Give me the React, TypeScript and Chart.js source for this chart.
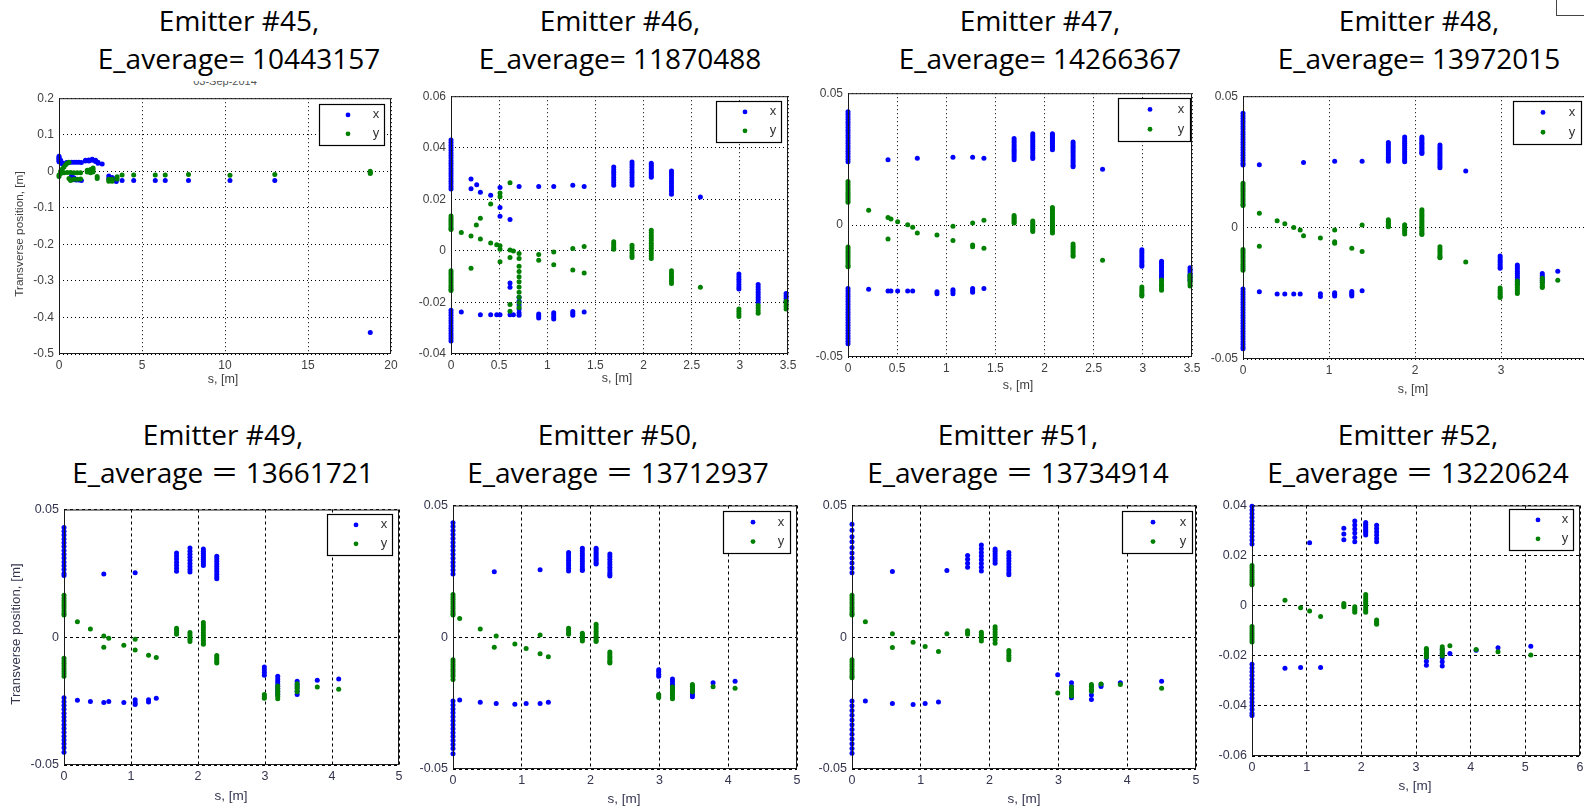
import React, { useEffect, useRef } from 'react';
import { Chart, registerables } from 'chart.js';
Chart.register(...registerables);

type G = [number, number[]][];

// ---------- data: [s, [positions...]] ----------
const E45_X: G = [
  [0, [0.041, 0.038, 0.035, 0.032, 0.029, 0.026]], [0.1, [0.03, 0.025]], [0.2, [0.023, 0.02]],
  [0.45, [0.024]], [0.6, [0.024]], [0.75, [0.025, -0.013]], [0.9, [0.025, -0.018, -0.023]],
  [1.05, [0.025, -0.024]], [1.2, [0.025, -0.024]], [1.35, [0.024, -0.025]],
  [1.6, [0.028, 0.03]], [1.8, [0.031, 0.028]], [2.0, [0.033, 0.03]], [2.2, [0.03, 0.027]],
  [2.35, [0.025, 0.022]], [2.6, [0.02]], [3.0, [-0.013, -0.02]], [3.2, [-0.017, -0.024]],
  [3.45, [-0.02, -0.028]], [3.8, [-0.025]], [4.5, [-0.025]], [5.8, [-0.025]], [6.4, [-0.025]],
  [7.8, [-0.025]], [10.3, [-0.025]], [13, [-0.025]], [18.75, [-0.441]],
];
const E45_Y: G = [
  [0, [-0.014, -0.01]], [0.1, [-0.006, 0.0]], [0.2, [0.006]], [0.3, [0.012, -0.004]], [0.4, [0.018]],
  [0.5, [0.022, -0.003]], [0.6, [0.025, -0.02]], [0.7, [-0.003, -0.025]], [0.9, [-0.004, -0.022]],
  [1.1, [-0.004, -0.022]], [1.3, [-0.004, -0.021]], [1.7, [0.003, -0.002]], [1.9, [0.005, 0.0, -0.004]],
  [2.05, [0.009, 0.004, -0.002]], [2.3, [-0.014, -0.02]], [3.0, [-0.022, -0.027]], [3.2, [-0.022, -0.027]],
  [3.5, [-0.015, -0.021]], [3.8, [-0.01]], [4.5, [-0.01]], [5.8, [-0.01]], [6.4, [-0.01]], [7.8, [-0.009]],
  [10.3, [-0.011]], [13, [-0.009]], [18.75, [0.0, -0.003, -0.006]],
];

const E46_X: G = [
  [0, [0.043, 0.042, 0.041, 0.04, 0.039, 0.038, 0.037, 0.036, 0.035, 0.034, 0.033, 0.032, 0.031, 0.03, 0.029, 0.028, 0.027, 0.026, 0.025, 0.024,
    -0.023, -0.024, -0.025, -0.026, -0.027, -0.028, -0.029, -0.03, -0.031, -0.032, -0.033, -0.034, -0.035]],
  [0.107, [-0.0237]], [0.208, [0.0279, 0.0241]], [0.267, [0.0257]], [0.305, [0.0227, -0.0248]],
  [0.412, [0.0216, -0.0248]], [0.475, [-0.0248]], [0.509, [0.0246, 0.0168, 0.0134, -0.0248]],
  [0.613, [0.0122, -0.0125, -0.0141, -0.0248]], [0.648, [-0.0248]],
  [0.707, [0.025, -0.018, -0.0195, -0.021, -0.0225, -0.024, -0.025]],
  [0.911, [0.025, -0.0245, -0.0253, -0.026]], [1.067, [0.025, -0.024, -0.0248, -0.0256, -0.0264]],
  [1.265, [0.0255, -0.0235, -0.0242, -0.025]], [1.383, [0.025, -0.0237]],
  [1.69, [0.0325, 0.0315, 0.0305, 0.0295, 0.0285, 0.0275, 0.0265, 0.0255]],
  [1.88, [0.0345, 0.0335, 0.0325, 0.0315, 0.0305, 0.0295, 0.0285, 0.0275, 0.0265, 0.0255]],
  [2.08, [0.034, 0.0333, 0.0326, 0.0319, 0.0312, 0.0305, 0.0298, 0.0291, 0.0286]],
  [2.29, [0.031, 0.03, 0.029, 0.028, 0.027, 0.026, 0.025, 0.024, 0.023, 0.022]],
  [2.59, [0.0209]], [2.99, [-0.009, -0.01, -0.011, -0.012, -0.013, -0.014, -0.0148]],
  [3.19, [-0.013, -0.014, -0.015, -0.016, -0.017, -0.018, -0.019, -0.02]],
  [3.48, [-0.0165, -0.0175, -0.0185, -0.0195]],
];
const E46_Y: G = [
  [0, [0.0135, 0.0127, 0.0119, 0.0111, 0.0103, 0.0095, 0.0087, 0.0083,
    -0.0077, -0.0085, -0.0093, -0.0101, -0.0109, -0.0117, -0.0125, -0.0133, -0.0141, -0.0149, -0.0154]],
  [0.107, [0.0071]], [0.208, [0.0058, -0.0067]], [0.263, [0.01]], [0.305, [0.0127, 0.0046]],
  [0.412, [0.0182, 0.0031]], [0.475, [0.0024]], [0.509, [0.0225, 0.021, 0.002, 0.0006, -0.0042]],
  [0.613, [0.0264, 0.0003, -0.0026, -0.0208, -0.0234]], [0.648, [0.0]],
  [0.707, [-0.001, -0.003, -0.006, -0.008, -0.01, -0.012, -0.014, -0.016, -0.018, -0.02, -0.022]],
  [0.911, [-0.0014, -0.0036]], [1.067, [-0.0004, -0.0054]], [1.265, [0.0009, -0.0074]], [1.383, [0.0017, -0.0086]],
  [1.69, [0.0035, 0.0027, 0.0019, 0.0011, 0.0006]],
  [1.88, [0.0022, 0.0012, 0.0002, -0.0008, -0.0018, -0.0026]],
  [2.08, [0.008, 0.007, 0.006, 0.005, 0.004, 0.003, 0.002, 0.001, 0, -0.001, -0.002, -0.003]],
  [2.29, [-0.0077, -0.0087, -0.0097, -0.0107, -0.0117, -0.0127]], [2.59, [-0.0141]],
  [2.99, [-0.0225, -0.0235, -0.0245, -0.0255]], [3.19, [-0.0212, -0.0222, -0.0232, -0.0242]],
  [3.48, [-0.0195, -0.0205, -0.0215, -0.0225]],
];

const E47_X: G = [
  [0, [0.043, 0.042, 0.041, 0.04, 0.039, 0.038, 0.037, 0.036, 0.035, 0.034, 0.033, 0.032, 0.031, 0.03, 0.029, 0.028, 0.027, 0.026, 0.025, 0.024,
    -0.024, -0.025, -0.026, -0.027, -0.028, -0.029, -0.03, -0.031, -0.032, -0.033, -0.034, -0.035, -0.036, -0.037, -0.038, -0.039, -0.04, -0.041, -0.042, -0.043, -0.044, -0.045]],
  [0.21, [-0.0243]], [0.407, [0.0248, -0.025]], [0.437, [-0.025]], [0.505, [-0.025]], [0.607, [-0.025]],
  [0.658, [-0.025]], [0.705, [0.0253]], [0.905, [-0.0253, -0.026]], [1.068, [0.0257, -0.0245, -0.0252, -0.026]],
  [1.268, [0.0257, -0.024, -0.0248, -0.0255]], [1.383, [0.0253, -0.024]],
  [1.69, [0.0328, 0.032, 0.0312, 0.0304, 0.0296, 0.0288, 0.028, 0.0272, 0.0264, 0.0256, 0.0248]],
  [1.88, [0.0346, 0.0338, 0.033, 0.0322, 0.0314, 0.0306, 0.0298, 0.029, 0.0282, 0.0274, 0.0266, 0.0258, 0.0252]],
  [2.08, [0.0346, 0.034, 0.0334, 0.0328, 0.0322, 0.0316, 0.031, 0.0304, 0.0298, 0.0292, 0.0286]],
  [2.29, [0.0315, 0.0307, 0.0299, 0.0291, 0.0283, 0.0275, 0.0267, 0.0259, 0.0251, 0.0243, 0.0235, 0.0227, 0.0221]],
  [2.59, [0.0212]], [2.99, [-0.0093, -0.0101, -0.0109, -0.0117, -0.0125, -0.0133, -0.0141, -0.0149, -0.0156]],
  [3.19, [-0.0137, -0.0145, -0.0153, -0.0161, -0.0169, -0.0177, -0.0185, -0.0193, -0.02]],
  [3.48, [-0.0162, -0.017, -0.0178, -0.0186, -0.0194, -0.0202, -0.021]],
];
const E47_Y: G = [
  [0, [0.0165, 0.0157, 0.0149, 0.0141, 0.0133, 0.0125, 0.0117, 0.0109, 0.0101, 0.0093, 0.0087,
    -0.0083, -0.0091, -0.0099, -0.0107, -0.0115, -0.0123, -0.0131, -0.0139, -0.0147, -0.0155, -0.0158]],
  [0.21, [0.0056]], [0.407, [0.0029, -0.0053]], [0.437, [0.0023]], [0.505, [0.0013]], [0.607, [0.0001]],
  [0.658, [-0.0008]], [0.705, [-0.003]], [0.905, [-0.0038]], [1.068, [-0.0004, -0.0058]],
  [1.268, [0.0008, -0.0075, -0.0082]], [1.383, [0.0018, -0.0088]],
  [1.69, [0.0036, 0.003, 0.0024, 0.0018, 0.0012, 0.0008]],
  [1.88, [0.0016, 0.0009, 0.0002, -0.0005, -0.0012, -0.0019, -0.0024]],
  [2.08, [0.0067, 0.006, 0.0053, 0.0046, 0.0039, 0.0032, 0.0025, 0.0018, 0.0011, 0.0004, -0.0003, -0.001, -0.0017, -0.0024, -0.003]],
  [2.29, [-0.0072, -0.008, -0.0088, -0.0096, -0.0104, -0.0112, -0.0118]], [2.59, [-0.0133]],
  [2.99, [-0.0235, -0.0243, -0.0251, -0.0259, -0.0265, -0.0269]],
  [3.19, [-0.0208, -0.0216, -0.0224, -0.0232, -0.024, -0.0247]],
  [3.48, [-0.019, -0.0198, -0.0206, -0.0214, -0.0222, -0.0231]],
];

const E48_X: G = [
  [0, [0.0435, 0.0425, 0.0415, 0.0405, 0.0395, 0.0385, 0.0375, 0.0365, 0.0355, 0.0345, 0.0335, 0.0325, 0.0315, 0.0305, 0.0295, 0.0285, 0.0275, 0.0265, 0.0255, 0.0245, 0.0238,
    -0.0234, -0.0244, -0.0254, -0.0264, -0.0274, -0.0284, -0.0294, -0.0304, -0.0314, -0.0324, -0.0334, -0.0344, -0.0354, -0.0364, -0.0374, -0.0384, -0.0394, -0.0404, -0.0414, -0.0424, -0.0434, -0.0444, -0.0454, -0.0461]],
  [0.19, [0.0239, -0.0244]], [0.397, [-0.0253]], [0.486, [-0.0253]], [0.59, [-0.0253]], [0.665, [-0.0253]],
  [0.704, [0.0248]], [0.9, [-0.0252, -0.0262]], [1.066, [0.0252, -0.0248, -0.0254, -0.026]],
  [1.265, [-0.0243, -0.0249, -0.0255, -0.026]], [1.385, [0.0252, -0.024]],
  [1.69, [0.0324, 0.0316, 0.0308, 0.03, 0.0292, 0.0284, 0.0276, 0.0268, 0.026, 0.0252]],
  [1.88, [0.0345, 0.0337, 0.0329, 0.0321, 0.0313, 0.0305, 0.0297, 0.0289, 0.0281, 0.0273, 0.0265, 0.0257, 0.0251]],
  [2.08, [0.0345, 0.0339, 0.0333, 0.0327, 0.0321, 0.0315, 0.0309, 0.0303, 0.0297, 0.0291, 0.0285, 0.0282]],
  [2.29, [0.0314, 0.0306, 0.0298, 0.029, 0.0282, 0.0274, 0.0266, 0.0258, 0.025, 0.0242, 0.0234, 0.0228]],
  [2.59, [0.0215]], [2.99, [-0.0108, -0.0116, -0.0124, -0.0132, -0.014, -0.0148, -0.0155]],
  [3.19, [-0.0142, -0.015, -0.0158, -0.0166, -0.0174, -0.0182, -0.019, -0.0198, -0.0206, -0.0215]],
  [3.48, [-0.0175, -0.0183, -0.0191, -0.0199, -0.0209]], [3.66, [-0.0166]],
];
const E48_Y: G = [
  [0, [0.0169, 0.0161, 0.0153, 0.0145, 0.0137, 0.0129, 0.0121, 0.0113, 0.0105, 0.0097, 0.0089, 0.0084,
    -0.0083, -0.0091, -0.0099, -0.0107, -0.0115, -0.0123, -0.0131, -0.0139, -0.0147, -0.0155, -0.0162]],
  [0.19, [0.0055, -0.0071]], [0.397, [0.0026]], [0.486, [0.0015]], [0.59, [0]], [0.665, [-0.0009]],
  [0.704, [-0.0031]], [0.9, [-0.004]], [1.066, [-0.0009, -0.0054, -0.006]], [1.265, [-0.0079]], [1.385, [0.001, -0.0091]],
  [1.69, [0.003, 0.0024, 0.0018, 0.0012, 0.0006, 0.0003]],
  [1.88, [0.0011, 0.0004, -0.0003, -0.001, -0.0017, -0.0024]],
  [2.08, [0.0068, 0.0061, 0.0054, 0.0047, 0.004, 0.0033, 0.0026, 0.0019, 0.0012, 0.0005, -0.0002, -0.0009, -0.0016, -0.0022, -0.0026]],
  [2.29, [-0.0073, -0.0081, -0.0089, -0.0097, -0.0105, -0.0112, -0.0115]], [2.59, [-0.0131]],
  [2.99, [-0.023, -0.0238, -0.0246, -0.0254, -0.0261, -0.0266]],
  [3.19, [-0.0203, -0.0211, -0.0219, -0.0227, -0.0235, -0.0243, -0.0251]],
  [3.48, [-0.0193, -0.0201, -0.0209, -0.0217, -0.0224, -0.0228]], [3.66, [-0.02]],
];

const E49_X: G = [
  [0, [0.043, 0.0415, 0.04, 0.0385, 0.037, 0.0355, 0.034, 0.0325, 0.031, 0.0295, 0.028, 0.0265, 0.025, 0.0242,
    -0.0237, -0.0252, -0.0267, -0.0282, -0.0297, -0.0312, -0.0327, -0.0342, -0.0357, -0.0372, -0.0387, -0.0402, -0.0417, -0.0432, -0.045]],
  [0.2, [-0.0247]], [0.394, [-0.0251]], [0.594, [0.0248, -0.0255]], [0.668, [-0.0251]], [0.893, [-0.0255]],
  [1.062, [0.0252, -0.0245, -0.0255, -0.0263]], [1.262, [-0.0245, -0.0253]], [1.377, [-0.0239]],
  [1.68, [0.033, 0.0318, 0.0306, 0.0294, 0.0282, 0.027, 0.0258]],
  [1.88, [0.0349, 0.0337, 0.0325, 0.0313, 0.0301, 0.0289, 0.0277, 0.0265, 0.0255]],
  [2.08, [0.0345, 0.0337, 0.0329, 0.0321, 0.0313, 0.0305, 0.0297, 0.0289, 0.0281]],
  [2.28, [0.0317, 0.0307, 0.0297, 0.0287, 0.0277, 0.0267, 0.0257, 0.0247, 0.0237, 0.0229]],
  [2.99, [-0.0116, -0.0127, -0.0138, -0.0149]],
  [3.19, [-0.0153, -0.0163, -0.0173, -0.0183, -0.0193, -0.0203, -0.0213, -0.0224]],
  [3.48, [-0.0172, -0.0185, -0.0198, -0.0211, -0.0224]], [3.78, [-0.0168]], [4.1, [-0.0163]],
];
const E49_Y: G = [
  [0, [0.0164, 0.0154, 0.0144, 0.0134, 0.0124, 0.0114, 0.0104, 0.0094, 0.0087,
    -0.0082, -0.0092, -0.0102, -0.0112, -0.0122, -0.0132, -0.0142, -0.0153]],
  [0.2, [0.0061]], [0.394, [0.0032]], [0.594, [0.0005, -0.0039]], [0.668, [-0.0004]], [0.893, [-0.0031]],
  [1.062, [-0.0008, -0.005]], [1.262, [-0.007]], [1.377, [-0.0079]],
  [1.68, [0.0035, 0.0027, 0.0019, 0.0012]], [1.88, [0.0019, 0.001, 0.0001, -0.0008, -0.0017]],
  [2.08, [0.0058, 0.0048, 0.0038, 0.0028, 0.0018, 0.0008, -0.0002, -0.0012, -0.0022, -0.0027]],
  [2.28, [-0.0071, -0.0079, -0.0087, -0.0095, -0.0101]], [2.99, [-0.0224, -0.0232, -0.0239]],
  [3.19, [-0.0191, -0.0201, -0.0211, -0.0221, -0.0231, -0.0241]],
  [3.48, [-0.0182, -0.0192, -0.0202, -0.0213]], [3.78, [-0.0195]], [4.1, [-0.0204]],
];

const E50_X: G = [
  [0, [0.0435, 0.042, 0.0405, 0.039, 0.0375, 0.036, 0.0345, 0.033, 0.0315, 0.03, 0.0285, 0.027, 0.0255, 0.024,
    -0.0242, -0.0257, -0.0272, -0.0287, -0.0302, -0.0317, -0.0332, -0.0347, -0.0362, -0.0377, -0.0392, -0.0407, -0.0422, -0.0442]],
  [0.097, [-0.0238]], [0.396, [-0.0247]], [0.6, [0.0249]], [0.628, [-0.0251]], [0.899, [-0.0254]],
  [1.063, [-0.0251]], [1.266, [0.0256, -0.0251]], [1.386, [-0.0247]],
  [1.68, [0.0322, 0.0312, 0.0302, 0.0292, 0.0282, 0.0272, 0.0262, 0.0251]],
  [1.88, [0.0338, 0.0328, 0.0318, 0.0308, 0.0298, 0.0288, 0.0278, 0.0268, 0.0258, 0.0253]],
  [2.08, [0.0338, 0.0331, 0.0324, 0.0317, 0.031, 0.0303, 0.0296, 0.0289, 0.0282, 0.0278]],
  [2.28, [0.0316, 0.0306, 0.0296, 0.0286, 0.0276, 0.0266, 0.0256, 0.0246, 0.0238, 0.0232]],
  [2.99, [-0.0123, -0.0131, -0.014, -0.0148]],
  [3.19, [-0.0158, -0.0168, -0.0178, -0.0188, -0.0196, -0.0204]],
  [3.48, [-0.0185, -0.0196, -0.0207, -0.0217, -0.0226]], [3.78, [-0.0173]], [4.1, [-0.0167]],
];
const E50_Y: G = [
  [0, [0.0162, 0.0153, 0.0144, 0.0135, 0.0126, 0.0117, 0.0108, 0.0099, 0.009, 0.0084,
    -0.0085, -0.0094, -0.0103, -0.0112, -0.0121, -0.013, -0.0139, -0.0148, -0.016]],
  [0.097, [0.0071]], [0.396, [0.0031]], [0.6, [-0.0038]], [0.628, [0.0005]], [0.899, [-0.0026]],
  [1.063, [-0.0043]], [1.266, [0.0009, -0.0063]], [1.386, [-0.0074]],
  [1.68, [0.0034, 0.0026, 0.0018, 0.0011]], [1.88, [0.0015, 0.0009, 0.0003, -0.0003, -0.0009, -0.0014]],
  [2.08, [0.0049, 0.004, 0.0031, 0.0022, 0.0013, 0.0004, -0.0005, -0.0012, -0.0016]],
  [2.28, [-0.0056, -0.0064, -0.0072, -0.008, -0.0088, -0.0094, -0.0098]], [2.99, [-0.0217, -0.0223, -0.0229]],
  [3.19, [-0.0189, -0.0197, -0.0205, -0.0213, -0.0221, -0.0228, -0.0233]],
  [3.48, [-0.0179, -0.0186, -0.0193, -0.02, -0.0207]], [3.78, [-0.0188]], [4.1, [-0.0194]],
];

const E51_X: G = [
  [0, [0.0429, 0.0406, 0.0381, 0.0362, 0.0341, 0.032, 0.0301, 0.0282, 0.0263, 0.0245,
    -0.0242, -0.026, -0.0278, -0.0296, -0.0314, -0.0332, -0.035, -0.0368, -0.0386, -0.0404, -0.0422, -0.044]],
  [0.194, [-0.0242]], [0.587, [0.025, -0.0251]], [0.888, [-0.0255]], [1.063, [-0.0251]], [1.257, [-0.0246]], [1.379, [0.0253]],
  [1.68, [0.031, 0.0296, 0.0281, 0.0266]],
  [1.88, [0.035, 0.0336, 0.0322, 0.0308, 0.0294, 0.028, 0.0266, 0.0251]],
  [2.08, [0.0335, 0.0326, 0.0317, 0.0308, 0.0299, 0.029, 0.0281]],
  [2.28, [0.0322, 0.0311, 0.03, 0.0289, 0.0278, 0.0267, 0.0256, 0.0245, 0.0237]],
  [2.99, [-0.0142]], [3.19, [-0.0173, -0.0187, -0.0201, -0.0215, -0.023]],
  [3.48, [-0.0186, -0.0202, -0.0219, -0.0236]], [3.62, [-0.0179, -0.0187]], [3.9, [-0.0173]], [4.5, [-0.0167]],
];
const E51_Y: G = [
  [0, [0.0159, 0.015, 0.0141, 0.0132, 0.0123, 0.0114, 0.0105, 0.0096, 0.0088, 0.0084,
    -0.0085, -0.0094, -0.0103, -0.0112, -0.0121, -0.013, -0.0139, -0.0148, -0.0154]],
  [0.194, [0.0059]], [0.587, [0.0013, -0.0039]], [0.888, [-0.0019]], [1.063, [-0.0035]], [1.257, [-0.0054]], [1.379, [0.0013]],
  [1.68, [0.0025, 0.0018, 0.0011]], [1.88, [0.0019, 0.0011, 0.0003, -0.0005, -0.0014]],
  [2.08, [0.004, 0.003, 0.002, 0.001, 0, -0.001, -0.0023]],
  [2.28, [-0.005, -0.0059, -0.0068, -0.0077, -0.0085]], [2.99, [-0.0212]],
  [3.19, [-0.0189, -0.0198, -0.0207, -0.0215, -0.0223]], [3.48, [-0.0179, -0.0188, -0.0197, -0.0205]],
  [3.62, [-0.0177]], [3.9, [-0.0179]], [4.5, [-0.0194]],
];

const E52_X: G = [
  [0, [0.0397, 0.0382, 0.0367, 0.0352, 0.0337, 0.0322, 0.0307, 0.0292, 0.0277, 0.0262, 0.0246,
    -0.0234, -0.0249, -0.0264, -0.0279, -0.0294, -0.0309, -0.0324, -0.0339, -0.0354, -0.0369, -0.0384, -0.0399, -0.0414, -0.0429, -0.0438]],
  [0.603, [-0.025]], [0.889, [-0.0247]], [1.054, [0.0251]], [1.255, [-0.0247]],
  [1.68, [0.0309, 0.0286, 0.0263]], [1.88, [0.0338, 0.0322, 0.0306, 0.029, 0.0272, 0.0255]],
  [2.08, [0.0332, 0.0325, 0.0318, 0.0311, 0.0304, 0.0297, 0.029, 0.0282]],
  [2.28, [0.0321, 0.0308, 0.0295, 0.0282, 0.0268, 0.0255]],
  [3.19, [-0.0175, -0.0191, -0.0207, -0.0222, -0.0238]], [3.48, [-0.0175, -0.0191, -0.0208, -0.0224, -0.0241]],
  [3.62, [-0.0191]], [4.1, [-0.0178]], [4.5, [-0.0168]], [5.1, [-0.0162]],
];
const E52_Y: G = [
  [0, [0.016, 0.0151, 0.0142, 0.0133, 0.0124, 0.0115, 0.0106, 0.0097, 0.0088, 0.0084,
    -0.0083, -0.0092, -0.0101, -0.011, -0.0119, -0.0128, -0.0137, -0.0145]],
  [0.603, [0.0022]], [0.889, [-0.0008]], [1.054, [-0.0021]], [1.255, [-0.0043]],
  [1.68, [0.0009, 0.0002, -0.0004]], [1.88, [-0.0004, -0.0011, -0.0018, -0.0026]],
  [2.08, [0.0045, 0.0036, 0.0027, 0.0018, 0.0009, 0, -0.0009, -0.0018, -0.0026]],
  [2.28, [-0.0057, -0.0063, -0.0069, -0.0074]],
  [3.19, [-0.0171, -0.018, -0.0189, -0.0197, -0.0205]], [3.48, [-0.0164, -0.0173, -0.0182, -0.0192, -0.0201]],
  [3.62, [-0.016]], [4.1, [-0.0175]], [4.5, [-0.0184]], [5.1, [-0.0197]],
];

const EMITTERS = ['45', '46', '47', '48', '49', '50', '51', '52'];
const E_AVERAGE = ['10443157', '11870488', '14266367', '13972015', '13661721', '13712937', '13734914', '13220624'];
const X_RANGES: [number, number, number][] = [[0, 20, 5], [0, 3.5, 0.5], [0, 3.5, 0.5], [0, 4, 1], [0, 5, 1], [0, 5, 1], [0, 5, 1], [0, 6, 1]];
const Y_RANGES: [number, number, number][] = [[-0.5, 0.2, 0.1], [-0.04, 0.06, 0.02], [-0.05, 0.05, 0.05], [-0.05, 0.05, 0.05],
  [-0.05, 0.05, 0.05], [-0.05, 0.05, 0.05], [-0.05, 0.05, 0.05], [-0.06, 0.04, 0.02]];
const SERIES_X = [E45_X, E46_X, E47_X, E48_X, E49_X, E50_X, E51_X, E52_X];
const SERIES_Y = [E45_Y, E46_Y, E47_Y, E48_Y, E49_Y, E50_Y, E51_Y, E52_Y];

// ---------- layout / style ----------
const BOXES = [ // plot area L,T,R,B
  [59, 96, 391, 354], [451, 94, 788, 354], [848, 91, 1192, 357], [1243, 94, 1587, 359],
  [64, 507, 399, 765], [453, 503, 797, 769], [852, 503, 1196, 769], [1252, 503, 1580, 756],
];
const LEGENDS = [
  [319, 104, 66, 42], [716, 101, 66, 42], [1118, 98, 73, 44], [1513, 101, 69, 44],
  [327, 514, 66, 42], [723, 511, 68, 43], [1122, 511, 71, 43], [1509, 509, 65, 42],
];
const XLABEL_POS = [[223, 379], [617, 378], [1018, 385], [1413, 389], [231, 795], [624, 798], [1024, 798], [1415, 785]];
const TITLE_CX = [239, 620, 1040, 1419, 223, 618, 1018, 1418];
const PAD = { l: 52, r: 16, t: 10, b: 24 };
const BLUE = '#0000ff';
const GREEN = '#008000';

const toPts = (g: G) => g.flatMap(([s, v]) => v.map((y) => ({ x: s, y })));
const fmt = (v: number) => String(Number(Number(v).toFixed(4)));

function Plot({ i }: { i: number }) {
  const ref = useRef<HTMLCanvasElement | null>(null);
  const [L, T, R, B] = BOXES[i];
  const left = L - PAD.l, top = T - PAD.t;
  const w = R - L + PAD.l + PAD.r, h = B - T + PAD.t + PAD.b;
  const bottomRow = i >= 4;
  useEffect(() => {
    if (!ref.current) return;
    const dash = bottomRow ? [3, 3] : [1, 3];
    const tickColor = bottomRow ? '#34344f' : '#404040';
    const tickFont = { family: '"Liberation Sans", Arial, sans-serif', size: bottomRow ? 12.5 : 12 };
    const lg = LEGENDS[i];
    const frame = {
      id: 'frame' + i,
      afterDraw(chart: any) {
        const { ctx, chartArea: a } = chart;
        ctx.save();
        ctx.setLineDash([]);
        ctx.strokeStyle = '#1a1a1a';
        ctx.lineWidth = 1;
        ctx.strokeRect(a.left + 0.5, a.top + 0.5, a.right - a.left - 1, a.bottom - a.top - 1);
        const lx = lg[0] - left, ly = lg[1] - top, lw = lg[2], lh = lg[3];
        ctx.fillStyle = '#fff';
        ctx.fillRect(lx, ly, lw, lh);
        ctx.strokeStyle = '#000';
        ctx.lineWidth = 1.2;
        ctx.strokeRect(lx + 0.5, ly + 0.5, lw - 1, lh - 1);
        const mx = lx + Math.round(lw * 0.44), tx = lx + Math.round(lw * 0.86);
        const rows: [string, string, number][] = [['x', BLUE, ly + lh * 0.26], ['y', GREEN, ly + lh * 0.71]];
        ctx.font = '13px "Liberation Sans", Arial, sans-serif';
        ctx.textAlign = 'center';
        ctx.textBaseline = 'middle';
        rows.forEach(([t, c, yy]) => {
          ctx.fillStyle = c;
          ctx.beginPath();
          ctx.arc(mx, yy, 2.4, 0, Math.PI * 2);
          ctx.fill();
          ctx.fillStyle = '#333';
          ctx.fillText(t, tx, yy);
        });
        ctx.restore();
      },
    };
    const [xmin, xmax, xstep] = X_RANGES[i];
    const [ymin, ymax, ystep] = Y_RANGES[i];
    const gridCommon = { color: '#000', lineWidth: 1, drawTicks: false, borderDash: dash };
    const chart = new Chart(ref.current, {
      type: 'scatter',
      data: {
        datasets: [
          { label: 'x', data: toPts(SERIES_X[i]), backgroundColor: BLUE, borderWidth: 0, pointRadius: 2.5, pointHoverRadius: 2.5, order: 2, clip: false },
          { label: 'y', data: toPts(SERIES_Y[i]), backgroundColor: GREEN, borderWidth: 0, pointRadius: 2.5, pointHoverRadius: 2.5, order: 1, clip: false },
        ],
      },
      options: {
        animation: false,
        responsive: false,
        devicePixelRatio: 1,
        events: [],
        layout: { padding: { top: PAD.t, right: PAD.r, left: 0, bottom: 0 } },
        plugins: { legend: { display: false }, tooltip: { enabled: false }, title: { display: false } },
        scales: {
          x: {
            type: 'linear', min: xmin, max: xmax,
            ticks: { stepSize: xstep, color: tickColor, font: tickFont, padding: 4, maxRotation: 0, autoSkip: false, callback: (v: any) => fmt(v) },
            grid: gridCommon as any,
            border: { display: false, dash } as any,
            afterFit: (s: any) => { s.height = PAD.b; },
          },
          y: {
            type: 'linear', min: ymin, max: ymax,
            ticks: { stepSize: ystep, color: tickColor, font: tickFont, padding: 5, autoSkip: false, callback: (v: any) => fmt(v) },
            grid: gridCommon as any,
            border: { display: false, dash } as any,
            afterFit: (s: any) => { s.width = PAD.l; },
          },
        },
      } as any,
      plugins: [frame],
    });
    return () => chart.destroy();
  }, [i]);
  return <canvas ref={ref} width={w} height={h} style={{ position: 'absolute', left, top, width: w, height: h }} />;
}

const titleStyle = (cx: number, top: number): React.CSSProperties => ({
  position: 'absolute', left: cx - 220, top, width: 440, textAlign: 'center',
  fontFamily: '"Open Sans", "Noto Sans CJK SC", sans-serif', fontSize: 28, lineHeight: '38px',
  color: '#000', whiteSpace: 'nowrap',
});

export default function App() {
  return (
    <div style={{ position: 'absolute', left: 0, top: 0, width: 1584, height: 808, overflow: 'hidden', background: '#fff' }}>
      {/* faint, partly hidden date above first plot */}
      <div style={{ position: 'absolute', left: 150, top: 81, width: 150, height: 7, overflow: 'hidden' }}>
        <div style={{ position: 'absolute', top: -6, width: 150, textAlign: 'center', font: '11px "Liberation Sans", Arial, sans-serif', color: '#555' }}>03-Sep-2014</div>
      </div>
      <div style={{ position: 'absolute', left: 1556, top: -1, width: 40, height: 15, border: '1px solid #444' }} />
      {EMITTERS.map((e, i) => (
        <div key={'t' + i} style={titleStyle(TITLE_CX[i], i < 4 ? 1 : 415)}>
          {`Emitter #${e},`}<br />
          {i < 4 ? `E_average= ${E_AVERAGE[i]}` : `E_average \uFF1D ${E_AVERAGE[i]}`}
        </div>
      ))}
      {EMITTERS.map((_, i) => <Plot key={'p' + i} i={i} />)}
      {XLABEL_POS.map(([cx, cy], i) => (
        <div key={'xl' + i} style={{ position: 'absolute', left: cx, top: cy, transform: 'translate(-50%,-50%)', whiteSpace: 'nowrap',
          font: `${i >= 4 ? 13.5 : 12.5}px "Liberation Sans", Arial, sans-serif`, color: i >= 4 ? '#34344f' : '#404040' }}>s, [m]</div>
      ))}
      {[[18.5, 233.5, 11.8], [15, 634, 13.3]].map(([cx, cy, fs], k) => (
        <div key={'yl' + k} style={{ position: 'absolute', left: cx, top: cy, transform: 'translate(-50%,-50%) rotate(-90deg)', whiteSpace: 'nowrap',
          font: `${fs}px "Liberation Sans", Arial, sans-serif`, color: k ? '#34344f' : '#404040' }}>Transverse position, [m]</div>
      ))}
    </div>
  );
}
